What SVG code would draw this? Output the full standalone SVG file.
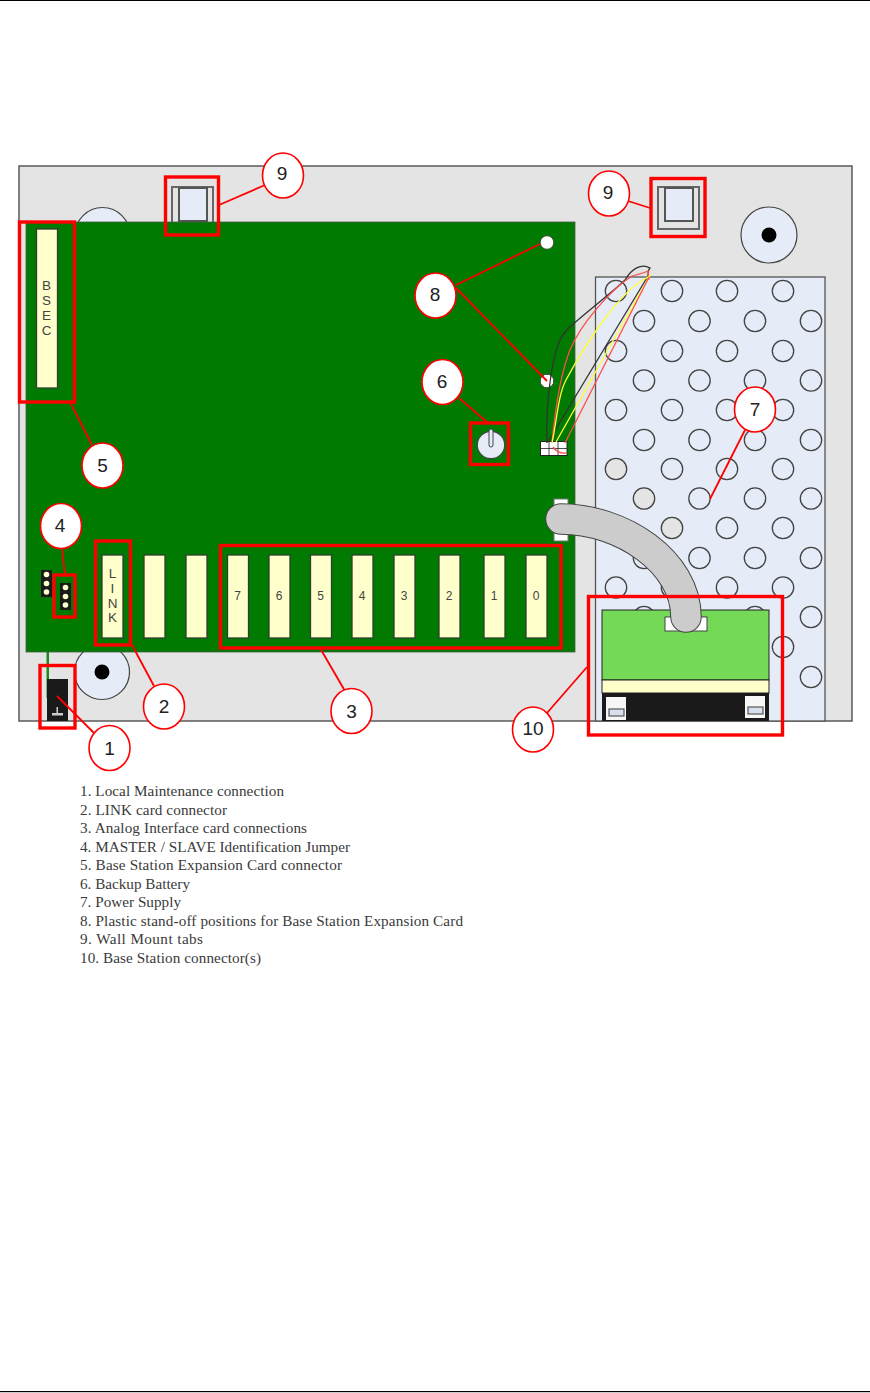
<svg xmlns="http://www.w3.org/2000/svg" width="870" height="1393" viewBox="0 0 870 1393">
<style>
.bg{fill:#e4e4e4;stroke:#5a5a5a;stroke-width:1.5}
.m{fill:#e6ecf7;stroke:#444;stroke-width:1.2}
.h{fill:#e6ecf7;stroke:#444;stroke-width:1.3}
.hg{fill:#e4e4e4;stroke:#444;stroke-width:1.3}
.slot{fill:#ffffcc;stroke:#2f3f2f;stroke-width:1.3}
.rb{fill:none;stroke:#f00;stroke-width:3.4}
.cl{stroke:#f00;stroke-width:1.8;fill:none}
.co{fill:#fff;stroke:#f00;stroke-width:1.6}
.n{font-family:"Liberation Sans",Arial,sans-serif;font-size:19px;fill:#222;text-anchor:middle}
.sl{font-family:"Liberation Sans",Arial,sans-serif;font-size:12px;fill:#444;text-anchor:middle}
.ll{font-family:"Liberation Sans",Arial,sans-serif;font-size:13.5px;fill:#444;text-anchor:middle}
.t{font-family:"Liberation Serif","Times New Roman",serif;font-size:15.2px;fill:#3a3a3a}
.w{fill:none;stroke-width:1.3}
.tab{fill:#e4e4e4;stroke:#666;stroke-width:2}
.tabi{fill:#e6ecf7;stroke:#555;stroke-width:2}
</style>

<rect x="0" y="0" width="870" height="1393" fill="#fff"/>
<rect x="0" y="0" width="870" height="1" fill="#000"/>
<rect x="0" y="1391" width="870" height="1.2" fill="#000"/>

<g id="enclosure">
<rect class="bg" x="19" y="166" width="833" height="555"/>
<circle class="m" cx="102.500" cy="235" r="27.500"/>
<circle class="m" cx="102" cy="672" r="27.500"/>
<circle cx="102" cy="672" r="7.500" fill="#000"/>
<circle class="m" cx="769" cy="235" r="28"/>
<circle cx="769" cy="235" r="7.500" fill="#000"/>
</g>

<g id="wall-tab-left">
<rect class="tab" x="172" y="187" width="41" height="36"/>
<rect class="tabi" x="179" y="188" width="28" height="33"/>
</g>
<g id="wall-tab-right">
<rect class="tab" x="658" y="187" width="41" height="42"/>
<rect class="tabi" x="665" y="188" width="28" height="33"/>
</g>

<g id="power-supply">
<rect x="595.500" y="277" width="229.500" height="444" fill="#e6ecf7" stroke="#555" stroke-width="1.3"/>
<circle class="h" cx="616" cy="291" r="10.700"/><circle class="h" cx="672" cy="291" r="10.700"/><circle class="h" cx="727" cy="291" r="10.700"/><circle class="h" cx="783" cy="291" r="10.700"/>
<circle class="h" cx="644" cy="321" r="10.700"/><circle class="h" cx="699.500" cy="321" r="10.700"/><circle class="h" cx="755" cy="321" r="10.700"/><circle class="h" cx="811" cy="321" r="10.700"/>
<circle class="h" cx="616" cy="351" r="10.700"/><circle class="h" cx="672" cy="351" r="10.700"/><circle class="h" cx="727" cy="351" r="10.700"/><circle class="h" cx="783" cy="351" r="10.700"/>
<circle class="h" cx="644" cy="380.500" r="10.700"/><circle class="h" cx="699.500" cy="380.500" r="10.700"/><circle class="h" cx="755" cy="380.500" r="10.700"/><circle class="h" cx="811" cy="380.500" r="10.700"/>
<circle class="h" cx="616" cy="410" r="10.700"/><circle class="h" cx="672" cy="410" r="10.700"/><circle class="h" cx="727" cy="410" r="10.700"/><circle class="h" cx="783" cy="410" r="10.700"/>
<circle class="h" cx="644" cy="440" r="10.700"/><circle class="h" cx="699.500" cy="440" r="10.700"/><circle class="h" cx="755" cy="440" r="10.700"/><circle class="h" cx="811" cy="440" r="10.700"/>
<circle class="hg" cx="616" cy="469" r="10.700"/><circle class="h" cx="672" cy="469" r="10.700"/><circle class="h" cx="727" cy="469" r="10.700"/><circle class="h" cx="783" cy="469" r="10.700"/>
<circle class="hg" cx="644" cy="498.500" r="10.700"/><circle class="h" cx="699.500" cy="498.500" r="10.700"/><circle class="h" cx="755" cy="498.500" r="10.700"/><circle class="h" cx="811" cy="498.500" r="10.700"/>
<circle class="h" cx="616" cy="528" r="10.700"/><circle class="hg" cx="672" cy="528" r="10.700"/><circle class="h" cx="727" cy="528" r="10.700"/><circle class="h" cx="783" cy="528" r="10.700"/>
<circle class="h" cx="644" cy="558" r="10.700"/><circle class="h" cx="699.500" cy="558" r="10.700"/><circle class="h" cx="755" cy="558" r="10.700"/><circle class="h" cx="811" cy="558" r="10.700"/>
<circle class="h" cx="616" cy="587.500" r="10.700"/><circle class="h" cx="672" cy="587.500" r="10.700"/><circle class="h" cx="727" cy="587.500" r="10.700"/><circle class="h" cx="783" cy="587.500" r="10.700"/>
<circle class="h" cx="644" cy="617" r="10.700"/><circle class="h" cx="755" cy="617" r="10.700"/><circle class="h" cx="811" cy="617" r="10.700"/>
<circle class="h" cx="783" cy="647" r="10.700"/>
<circle class="h" cx="811" cy="677" r="10.700"/>
</g>

<g id="pcb">
<rect x="46.500" y="651" width="2.500" height="47" fill="#1c8a1c"/>
<rect x="26" y="222" width="549" height="430" fill="#007a00" stroke="#4a5a4a" stroke-width="0.8"/>
</g>

<g id="bsec">
<rect class="slot" x="36.500" y="229" width="21" height="159"/>
<text class="ll" x="46.500" y="290">B</text>
<text class="ll" x="46.500" y="305">S</text>
<text class="ll" x="46.500" y="320">E</text>
<text class="ll" x="46.500" y="335">C</text>
</g>

<g id="slots">
<rect class="slot" x="102" y="555" width="21" height="83"/>
<text class="ll" x="112.500" y="578">L</text>
<text class="ll" x="112.500" y="593">I</text>
<text class="ll" x="112.500" y="608">N</text>
<text class="ll" x="112.500" y="622">K</text>
<rect class="slot" x="144" y="555" width="21" height="83"/>
<rect class="slot" x="186" y="555" width="21" height="83"/>
<rect class="slot" x="227.500" y="555" width="21" height="83"/><text class="sl" x="237.500" y="600">7</text>
<rect class="slot" x="269" y="555" width="21" height="83"/><text class="sl" x="279" y="600">6</text>
<rect class="slot" x="310.500" y="555" width="21" height="83"/><text class="sl" x="320.500" y="600">5</text>
<rect class="slot" x="352" y="555" width="21" height="83"/><text class="sl" x="362" y="600">4</text>
<rect class="slot" x="394" y="555" width="21" height="83"/><text class="sl" x="404" y="600">3</text>
<rect class="slot" x="439" y="555" width="21" height="83"/><text class="sl" x="449" y="600">2</text>
<rect class="slot" x="484" y="555" width="21" height="83"/><text class="sl" x="494" y="600">1</text>
<rect class="slot" x="526" y="555" width="21" height="83"/><text class="sl" x="536" y="600">0</text>
</g>

<g id="jumpers">
<rect x="41" y="570" width="11" height="27" fill="#1a1a1a"/>
<circle cx="46.500" cy="574.500" r="2.800" fill="#ffffcc"/><circle cx="46.500" cy="583.500" r="2.800" fill="#ffffcc"/><circle cx="46.500" cy="592" r="2.800" fill="#ffffcc"/>
<rect x="60" y="583" width="11" height="27" fill="#1a1a1a"/>
<circle cx="65.500" cy="587.500" r="2.800" fill="#ffffcc"/><circle cx="65.500" cy="596.500" r="2.800" fill="#ffffcc"/><circle cx="65.500" cy="605" r="2.800" fill="#ffffcc"/>
</g>

<g id="local-maintenance">
<rect x="47" y="679" width="21" height="42" fill="#1a1a1a"/>
<rect x="56.500" y="707" width="1.500" height="6" fill="#ccc"/>
<rect x="52" y="713" width="11" height="2.500" fill="#ccc"/>
</g>

<g id="standoffs">
<circle cx="547" cy="242.500" r="6.800" fill="#fff" stroke="#3a4a3a" stroke-width="1"/>
<circle cx="547" cy="381" r="6.800" fill="#fff" stroke="#3a4a3a" stroke-width="1"/>
</g>

<g id="battery">
<circle class="m" cx="491" cy="445" r="13.700"/>
<rect x="489" y="429" width="4" height="18" rx="2" fill="#e6ecf7" stroke="#444" stroke-width="1"/>
</g>

<g id="wire-connector">
<rect x="540.500" y="441.500" width="26.500" height="14" fill="#fff" stroke="#222" stroke-width="1"/>
<path d="M540.500 448.500H567M549 441.500V455.500M558 441.500V455.500" stroke="#222" stroke-width="0.8" fill="none"/>
</g>

<g id="wires">
<path class="w" stroke="#333" d="M547 443C546 420 548 395 551 375C556 345 560 335 572 325C595 305 615 290 625 280C632 268 642 263 650 268Q648 270 648 276"/>
<path class="w" stroke="#333" d="M548 442L648 276"/>
<path class="w" stroke="#ff4d4d" d="M552 443C556 400 562 370 570 350C580 325 610 290 632 276C638 274 642 274 648 271L649 280"/>
<path class="w" stroke="#ffff33" d="M552 443C557 420 558 395 566 380C590 335 620 295 640 282L651 275"/>
<path class="w" stroke="#ffff33" d="M556 442L649 277"/>
<path class="w" stroke="#ff4d4d" d="M565 443L649 277"/>
<path class="w" stroke="#ff4d4d" d="M553 447Q558 454 566 453"/>
</g>

<g id="base-station-card">
<rect x="602" y="610" width="167" height="70" fill="#73d956" stroke="#222" stroke-width="1"/>
<rect x="602" y="680" width="167" height="13" fill="#ffffcc" stroke="#222" stroke-width="1"/>
<rect x="602" y="693" width="167" height="28" fill="#1a1a1a"/>
<rect x="606" y="697" width="20" height="23" fill="#f7f7f7"/>
<rect x="609" y="709" width="15" height="7" fill="#d8e0f0" stroke="#555" stroke-width="1.2"/>
<rect x="745" y="696" width="20" height="22" fill="#f7f7f7"/>
<rect x="748" y="707" width="15" height="7" fill="#d8e0f0" stroke="#555" stroke-width="1.2"/>
<rect x="665" y="617" width="42" height="14" fill="#fff" stroke="#444" stroke-width="1"/>
</g>

<g id="cable">
<rect x="554" y="499" width="14" height="42" fill="#fff" stroke="#777" stroke-width="1"/>
<path d="M561 519C622 519 686 562 686 617" fill="none" stroke="#444" stroke-width="31.500" stroke-linecap="round"/>
<path d="M561 519C622 519 686 562 686 617" fill="none" stroke="#ccc" stroke-width="29.500" stroke-linecap="round"/>
</g>

<g id="connectors">
<path class="cl" d="M219 205L265 185"/>
<path class="cl" d="M628 201L650 208"/>
<path class="cl" d="M456 285L540 244"/>
<path class="cl" d="M456 288L547 381"/>
<path class="cl" d="M459 398L488 423"/>
<path class="cl" d="M70 402L92 445"/>
<path class="cl" d="M62 549L65 575"/>
<path class="cl" d="M132 645L154 686"/>
<path class="cl" d="M57 696L94 733"/>
<path class="cl" d="M320 648L345 691"/>
<path class="cl" d="M587 667L547 713"/>
<path class="cl" d="M745 430L710 499"/>
</g>

<g id="highlight-boxes">
<rect class="rb" x="19.500" y="222" width="55" height="180"/>
<rect class="rb" x="165.500" y="177" width="53" height="58"/>
<rect class="rb" x="651" y="178.500" width="54" height="58"/>
<rect class="rb" x="470.500" y="423" width="38" height="41.500"/>
<rect class="rb" x="54" y="575" width="21" height="42"/>
<rect class="rb" x="95.500" y="541" width="35" height="104"/>
<rect class="rb" x="220.500" y="545.500" width="340.500" height="102.500"/>
<rect class="rb" x="40" y="665.500" width="35" height="62.500"/>
<rect class="rb" x="588.500" y="596.500" width="194" height="138.500"/>
</g>

<g id="callout-1"><ellipse class="co" cx="109.500" cy="748" rx="20.500" ry="22.500"/><text class="n" x="109.500" y="755">1</text></g>
<g id="callout-2"><ellipse class="co" cx="164" cy="706.500" rx="20.500" ry="22.500"/><text class="n" x="164" y="713">2</text></g>
<g id="callout-3"><ellipse class="co" cx="351.500" cy="711" rx="20.500" ry="22.500"/><text class="n" x="351.500" y="718">3</text></g>
<g id="callout-4"><ellipse class="co" cx="61" cy="526" rx="20.500" ry="22.500"/><text class="n" x="60" y="532">4</text></g>
<g id="callout-5"><ellipse class="co" cx="102.500" cy="465.500" rx="20.500" ry="22.500"/><text class="n" x="102.500" y="472">5</text></g>
<g id="callout-6"><ellipse class="co" cx="442.500" cy="382" rx="20.500" ry="22.500"/><text class="n" x="442" y="388">6</text></g>
<g id="callout-7"><ellipse class="co" cx="755" cy="409.500" rx="20.500" ry="22.500"/><text class="n" x="755" y="416">7</text></g>
<g id="callout-8"><ellipse class="co" cx="435.500" cy="295.500" rx="20.500" ry="22.500"/><text class="n" x="435" y="301">8</text></g>
<g id="callout-9a"><ellipse class="co" cx="283" cy="175.500" rx="20.500" ry="22.500"/><text class="n" x="282" y="180">9</text></g>
<g id="callout-9b"><ellipse class="co" cx="609" cy="193.500" rx="20.500" ry="22.500"/><text class="n" x="608" y="199">9</text></g>
<g id="callout-10"><ellipse class="co" cx="533" cy="729.500" rx="20.500" ry="22.500"/><text class="n" x="533" y="735">10</text></g>

<g id="legend">
<text class="t" x="80" y="796" textLength="204">1. Local Maintenance connection</text>
<text class="t" x="80" y="815" textLength="147">2. LINK card connector</text>
<text class="t" x="80" y="833" textLength="227">3. Analog Interface card connections</text>
<text class="t" x="80" y="852" textLength="270">4. MASTER / SLAVE Identification Jumper</text>
<text class="t" x="80" y="870" textLength="262">5. Base Station Expansion Card connector</text>
<text class="t" x="80" y="889" textLength="110">6. Backup Battery</text>
<text class="t" x="80" y="907" textLength="101">7. Power Supply</text>
<text class="t" x="80" y="926" textLength="383">8. Plastic stand-off positions for Base Station Expansion Card</text>
<text class="t" x="80" y="944" textLength="123">9. Wall Mount tabs</text>
<text class="t" x="80" y="963" textLength="181">10. Base Station connector(s)</text>
</g>
</svg>
